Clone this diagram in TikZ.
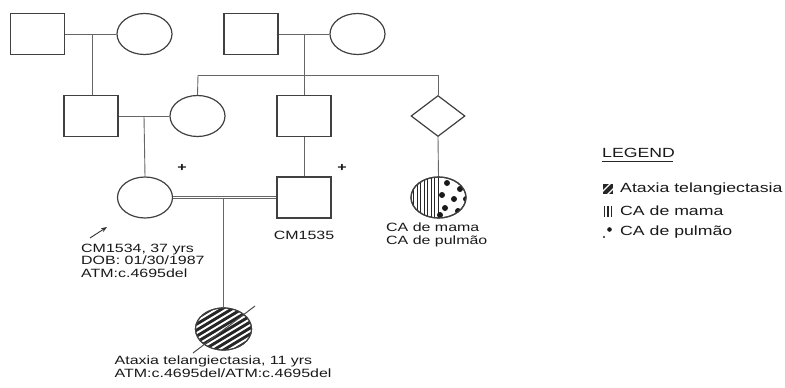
\documentclass[tikz,border=0pt]{standalone}
\usepackage{fontspec}
\setmainfont[FakeStretch=1.33]{Liberation Sans}
\usetikzlibrary{shapes.geometric,arrows.meta,calc}
\begin{document}
\begin{tikzpicture}[x=1pt,y=-1pt,
  male/.style={draw=black!75,line width=1.2pt,rectangle,inner sep=0pt,minimum width=54pt,minimum height=41pt},
  female/.style={draw=black!75,line width=1.2pt,ellipse,inner sep=0pt,minimum width=55pt,minimum height=41pt},
  unk/.style={draw=black!75,line width=1.2pt,diamond,inner sep=0pt,minimum width=54pt,minimum height=41pt},
  link/.style={draw=black!60,line width=0.9pt},
  lbl/.style={font=\fontsize{12}{12.6}\selectfont,align=left,inner sep=0pt,text=black!90},
  leg/.style={font=\fontsize{13.3}{15}\selectfont,inner sep=0pt,anchor=west,text=black!90}]
\useasboundingbox (0,0) rectangle (785,388);
% generation I
\node[male]   (gf1) at (37.5,34) {};
\node[female] (gm1) at (144.5,34) {};
\node[male]   (gf2) at (251,34) {};
\node[female] (gm2) at (357.5,34) {};
% generation II
\node[male]   (fa) at (91,116) {};
\node[female] (mo) at (197.5,116) {};
\node[male]   (un) at (304,116) {};
\node[unk]    (di) at (438,116) {};
% generation III
\node[female] (pr) at (145,197.5) {};
\node[male]   (sp) at (304,197.5) {};
\node[female] (ca) at (438.5,197.5) {};
% generation IV
\node[female,minimum width=56pt,minimum height=42pt] (ch) at (223.5,329) {};

% connectors
\coordinate (m1) at (92,34);
\coordinate (m2) at (304,34);
\coordinate (sibL) at (198,75);
\coordinate (sibR) at (438,75);
\coordinate (m3) at (144,116);
\coordinate (m4) at (223.5,197.5);
\draw[link] (gf1.east) -- (gm1.west);
\draw[link] (m1) -- (m1 |- fa.north);
\draw[link] (gf2.east) -- (gm2.west);
\draw[link] (m2) -- (un.north);
\draw[link] (sibL) -- (sibR);
\draw[link] (sibL) -- (mo.north);
\draw[link] (sibR) -- (di.north);
\draw[link] (fa.east) -- (mo.west);
\draw[link] (m3) -- (pr.north);
\draw[link] (un.south) -- (sp.north);
\draw[link] (di.south) -- (ca.north);
\draw[draw=black!60,line width=0.8pt,double=white,double distance=1.2pt] (pr.east) -- (sp.west);
\draw[link] (m4) -- (ch.north);

% affected child hatching
\begin{scope}
  \clip (ch.center) ellipse [x radius=28pt, y radius=21pt];
  \fill[black!85] (ch.center) ellipse [x radius=28pt, y radius=21pt];
  \foreach \k in {-9,...,9}
    \draw[white,line width=1.9pt] ($(ch.center)+(-45,\k*6+27)$) -- ($(ch.center)+(45,\k*6-27)$);
\end{scope}
\node[female,minimum width=56pt,minimum height=42pt] at (ch.center) {};
\coordinate (dA) at (193,353);
\coordinate (dB) at (255,306);
\draw[black!70,line width=1pt] (dA) -- (dB);

% CA circle: stripes left, dots right
\begin{scope}
  \clip (ca.center) ellipse [x radius=27.5pt, y radius=20.5pt];
  \foreach \x in {413.5,417,420.5,424,427.5,431,434.5,438}
    \draw[black!85,line width=1pt] (\x,170) -- (\x,225);
  \foreach \p in {(447,183),(460,189),(442,195),(454,199),(466,199),(445,208),(458,211),(440,215)}
    \fill[black!90] \p circle (3pt);
\end{scope}
\node[female] at (ca.center) {};

% proband arrow
\coordinate (arS) at (90,238);
\coordinate (arE) at (107,227);
\draw[black!80,line width=0.9pt,-{Stealth[length=6pt,width=4.5pt]}] (arS) -- (arE);

% plus marks
\node[lbl,font=\fontsize{12}{12}\selectfont\bfseries] (pl1) at (182,168) {+};
\node[lbl,font=\fontsize{12}{12}\selectfont\bfseries] (pl2) at (342,168) {+};

% labels
\node[lbl,anchor=north west] (tpr) at (81,243.5) {CM1534, 37 yrs\\DOB: 01/30/1987\\ATM:c.4695del};
\node[lbl,anchor=north] (tsp) at (304,230.5) {CM1535};
\node[lbl,anchor=north west] (tca) at (386,223) {CA de mama\\CA de pulmão};
\node[lbl,anchor=north west] (tch) at (114.5,356) {Ataxia telangiectasia, 11 yrs\\ATM:c.4695del/ATM:c.4695del};

% legend
\node[leg] (lg) at (602,153) {LEGEND};
\draw[black!85,line width=1.1pt] (lg.south west) ++(0,4) -- ++(71,0);
\begin{scope}
  \clip (603,184) rectangle (613,194);
  \fill[black!85] (603,184) rectangle (613,194);
  \draw[white,line width=1.3pt] (601,193) -- (611,183);
  \draw[white,line width=1.3pt] (605,197) -- (615,187);
\end{scope}
\node[leg] (l1) at (620,189.5) {Ataxia telangiectasia};
\foreach \x in {604.5,608,611.5}
  \draw[black!85,line width=1.4pt] (\x,205.5) -- (\x,217);
\node[leg] (l2) at (620,211) {CA de mama};
\fill[black!85] (604,237) circle (1.1pt);
\fill[black!90] (609.5,229.5) circle (2.3pt);
\node[leg] (l3) at (620,232) {CA de pulmão};
\end{tikzpicture}
\end{document}
